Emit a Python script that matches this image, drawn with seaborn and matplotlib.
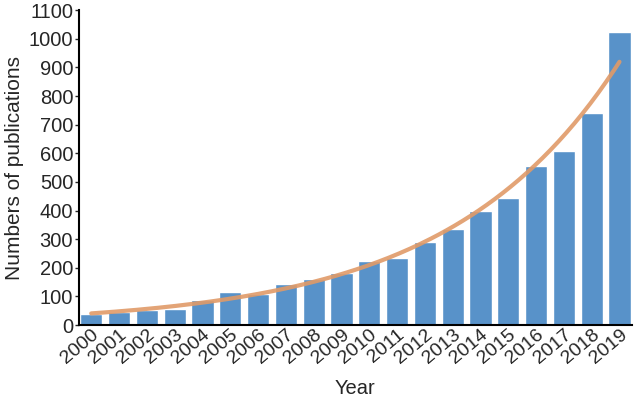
import numpy as np
import pandas as pd
import matplotlib
matplotlib.use("Agg")
import matplotlib.pyplot as plt
import seaborn as sns

# --- Data ---
YEARS = [str(y) for y in range(2000, 2020)]
PUBLICATIONS = [37, 46, 54, 55, 87, 116, 108, 143, 160, 180,
                222, 233, 290, 336, 399, 443, 556, 609, 739, 1022]
Y_TICKS = list(range(0, 1101, 100))

BAR_COLOR = "#5892C9"
TREND_COLOR = "#E09A68"


def main():
    sns.set_theme(style="white")
    plt.rcParams["font.family"] = ["Liberation Sans", "DejaVu Sans"]

    df = pd.DataFrame({"Year": YEARS, "Count": PUBLICATIONS})

    fig = plt.figure(figsize=(6.4, 4.05), dpi=100)
    ax = fig.add_axes([0.123, 0.1975, 0.8645, 0.7775])

    sns.barplot(data=df, x="Year", y="Count", color=BAR_COLOR,
                saturation=1, width=0.8, ax=ax)

    # exponential trend line (least squares on log counts, like a spreadsheet trendline)
    idx = np.arange(len(PUBLICATIONS))
    k, b = np.polyfit(idx, np.log(PUBLICATIONS), 1)
    xs = np.linspace(0, len(PUBLICATIONS) - 1, 200)
    ax.plot(xs, np.exp(b + k * xs), color=TREND_COLOR, lw=3, alpha=0.9,
            solid_capstyle="round")

    ax.set_xlim(-0.45, len(YEARS) - 0.55)
    ax.set_ylim(0, 1100)
    ax.set_yticks(Y_TICKS)
    ax.tick_params(axis="y", labelsize=14.5, length=3, width=1, direction="out", left=True, pad=1)
    ax.tick_params(axis="x", labelsize=14, length=0, pad=1)
    plt.setp(ax.get_xticklabels(), rotation=40, ha="right", rotation_mode="anchor")

    for side in ["top", "right"]:
        ax.spines[side].set_visible(False)
    for side in ["left", "bottom"]:
        ax.spines[side].set_color("black")
        ax.spines[side].set_linewidth(1.5)

    ax.set_xlabel("Year", fontsize=14.5, labelpad=8)
    ax.set_ylabel("Numbers of publications", fontsize=15, labelpad=3)

    fig.savefig("out.png", dpi=100)
    plt.close(fig)


if __name__ == "__main__":
    main()
